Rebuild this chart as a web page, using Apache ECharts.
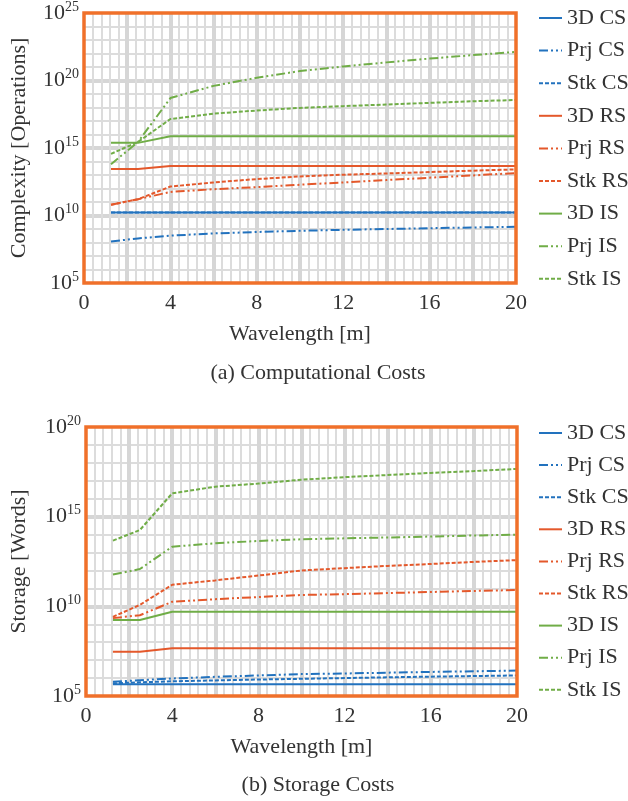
<!DOCTYPE html>
<html>
<head>
<meta charset="utf-8">
<script src="https://cdn.jsdelivr.net/npm/echarts@6/dist/echarts.min.js"></script>
<style>
  html, body { margin: 0; padding: 0; background: #fff; }
  #chart { width: 628px; height: 801px; }
</style>
</head>
<body>
<div id="chart"></div>
<script>
// wavelength samples [m]
const wavelength = [1.25, 2.5, 4, 6, 8, 10, 12, 14, 16, 18, 20];
const seriesNames = ['3D CS', 'Prj CS', 'Stk CS', '3D RS', 'Prj RS', 'Stk RS', '3D IS', 'Prj IS', 'Stk IS'];
const xTickLabels = [0, 4, 8, 12, 16, 20];
const compExponents = [5, 10, 15, 20, 25];
const storExponents = [5, 10, 15, 20];

// (a) computational costs [operations]
const compCS3D  = [1.7e10, 1.7e10, 1.7e10, 1.7e10, 1.7e10, 1.7e10, 1.7e10, 1.7e10, 1.7e10, 1.7e10, 1.7e10];
const compCSPrj = [1.2e8, 2.0e8, 3.2e8, 4.7e8, 6.0e8, 7.4e8, 8.7e8, 1.0e9, 1.15e9, 1.3e9, 1.45e9];
const compCSStk = [1.7e10, 1.7e10, 1.7e10, 1.7e10, 1.7e10, 1.7e10, 1.7e10, 1.7e10, 1.7e10, 1.7e10, 1.7e10];
const compRS3D  = [2.75e13, 2.75e13, 4.7e13, 4.7e13, 4.7e13, 4.7e13, 4.7e13, 4.7e13, 4.7e13, 4.7e13, 4.7e13];
const compRSPrj = [6.3e10, 1.6e11, 5.6e11, 8.9e11, 1.26e12, 1.9e12, 2.8e12, 4.2e12, 6.3e12, 9.3e12, 1.4e13];
const compRSStk = [6.3e10, 1.6e11, 1.4e12, 2.8e12, 5.0e12, 7.9e12, 1.05e13, 1.3e13, 1.65e13, 2.1e13, 2.6e13];
const compIS3D  = [2.4e15, 2.4e15, 7.4e15, 7.4e15, 7.4e15, 7.4e15, 7.4e15, 7.4e15, 7.4e15, 7.4e15, 7.4e15];
const compISPrj = [6.3e13, 2.8e15, 5.0e18, 4.0e19, 1.6e20, 5.0e20, 1.1e21, 2.2e21, 4.2e21, 7.6e21, 1.3e22];
const compISStk = [3.7e14, 2.8e15, 1.4e17, 3.5e17, 6.0e17, 9.3e17, 1.26e18, 1.66e18, 2.2e18, 2.9e18, 3.6e18];

// (b) storage costs [words]
const storCS3D  = [4.5e5, 4.5e5, 4.5e5, 4.5e5, 4.5e5, 4.5e5, 4.5e5, 4.5e5, 4.5e5, 4.5e5, 4.5e5];
const storCSPrj = [6.3e5, 7.6e5, 9.5e5, 1.17e6, 1.4e6, 1.66e6, 1.8e6, 2.0e6, 2.2e6, 2.4e6, 2.6e6];
const storCSStk = [5.1e5, 5.8e5, 6.6e5, 7.4e5, 8.3e5, 9.1e5, 1.0e6, 1.1e6, 1.2e6, 1.3e6, 1.4e6];
const storRS3D  = [2.95e7, 2.95e7, 4.6e7, 4.6e7, 4.6e7, 4.6e7, 4.6e7, 4.6e7, 4.6e7, 4.6e7, 4.6e7];
const storRSPrj = [2.2e9, 3.2e9, 1.8e10, 2.5e10, 3.3e10, 4.3e10, 4.8e10, 5.5e10, 6.3e10, 7.2e10, 8.1e10];
const storRSStk = [2.6e9, 1.2e10, 1.6e11, 2.8e11, 5.2e11, 1.0e12, 1.35e12, 1.8e12, 2.3e12, 3.0e12, 3.8e12];
const storIS3D  = [1.74e9, 1.74e9, 5.0e9, 5.0e9, 5.0e9, 5.0e9, 5.0e9, 5.0e9, 5.0e9, 5.0e9, 5.0e9];
const storISPrj = [5.9e11, 1.2e12, 2.1e13, 3.3e13, 4.4e13, 5.5e13, 6.2e13, 6.9e13, 7.8e13, 8.9e13, 1.0e14];
const storISStk = [4.6e13, 1.8e14, 2.0e16, 4.7e16, 7.0e16, 1.15e17, 1.6e17, 2.1e17, 2.75e17, 3.5e17, 4.6e17];

const FONT = '"Liberation Serif", "DejaVu Serif", serif';
const TEXT = '#333333';
const BORDER = '#f0702a';
const GRID_MAJOR = '#d6d6d6';
const GRID_MINOR = '#dcdcdc';
const colors = ['#2272be', '#2272be', '#2272be', '#e4582b', '#e4582b', '#e4582b', '#70ad47', '#70ad47', '#70ad47'];
const dashes = ['solid', [9, 3, 2, 3, 2, 3], [4, 2]];

const chart = echarts.init(document.getElementById('chart'));

function pairs(ys) {
  return wavelength.map((x, i) => [x, ys[i]]);
}

function buildSeries(list, xIdx, yIdx) {
  return list.map((ys, i) => ({
    name: seriesNames[i],
    type: 'line',
    xAxisIndex: xIdx,
    yAxisIndex: yIdx,
    data: pairs(ys),
    symbol: 'none',
    showSymbol: false,
    z: i % 3 === 0 ? 4 : 3,
    lineStyle: { color: colors[i], width: 2, type: dashes[i % 3] },
    itemStyle: { color: colors[i] },
    emphasis: { disabled: true }
  }));
}

function xAxis(gridIndex) {
  return {
    type: 'value', gridIndex: gridIndex, min: 0, max: 20, interval: 2,
    name: 'Wavelength [m]', nameLocation: 'middle', nameGap: 40,
    nameTextStyle: { fontFamily: FONT, fontSize: 22, color: TEXT },
    axisLine: { show: false }, axisTick: { show: false },
    axisLabel: {
      margin: 9, fontFamily: FONT, fontSize: 22, color: TEXT,
      formatter: v => (xTickLabels.indexOf(v) >= 0 ? String(v) : '')
    },
    splitLine: { show: true, showMinLine: false, showMaxLine: false, lineStyle: { color: GRID_MAJOR, width: 4 } },
    minorTick: { show: false, splitNumber: 5 },
    minorSplitLine: { show: true, lineStyle: { color: GRID_MINOR, width: 2 } }
  };
}

function gridAxis(gridIndex, exps, name, gap) {
  return {
    type: 'value', gridIndex: gridIndex, position: 'left',
    min: exps[0], max: exps[exps.length - 1], interval: 5,
    name: name, nameLocation: 'middle', nameGap: gap,
    nameTextStyle: { fontFamily: FONT, fontSize: 22, color: TEXT },
    axisLine: { show: false }, axisTick: { show: false },
    axisLabel: {
      margin: 5,
      formatter: v => '{b|10}{s|' + v + '}',
      rich: {
        b: { fontFamily: FONT, fontSize: 22, color: TEXT, lineHeight: 26 },
        s: { fontFamily: FONT, fontSize: 14, color: TEXT, verticalAlign: 'top', lineHeight: 14 }
      }
    },
    splitLine: { show: true, showMinLine: false, showMaxLine: false, lineStyle: { color: GRID_MAJOR, width: 4 } },
    minorTick: { show: false, splitNumber: 5 },
    minorSplitLine: { show: true, lineStyle: { color: GRID_MINOR, width: 2 } }
  };
}

function logAxis(gridIndex, lo, hi) {
  return {
    type: 'log', logBase: 10, gridIndex: gridIndex, position: 'right',
    min: lo, max: hi, show: false, splitLine: { show: false }
  };
}

function legend(top, gap) {
  return {
    orient: 'vertical', left: 533, top: top, itemGap: gap,
    itemWidth: 23, itemHeight: 14,
    selectedMode: false,
    data: seriesNames,
    itemStyle: { opacity: 0 },
    textStyle: { fontFamily: FONT, fontSize: 22, color: TEXT, lineHeight: 24 }
  };
}

const option = {
  animation: false,
  grid: [
    { left: 83, top: 12, width: 433, height: 271, show: true, z: 10, backgroundColor: 'transparent', borderColor: BORDER, borderWidth: 3.5 },
    { left: 85, top: 427, width: 432, height: 269, show: true, z: 10, backgroundColor: 'transparent', borderColor: BORDER, borderWidth: 3.5 }
  ],
  legend: [legend(1, 8.6), legend(416, 8.1)],
  xAxis: [xAxis(0), xAxis(1)],
  yAxis: [
    logAxis(0, 1e5, 1e25),
    gridAxis(0, compExponents, 'Complexity [Operations]', 54),
    logAxis(1, 1e5, 1e20),
    gridAxis(1, storExponents, 'Storage [Words]', 56)
  ],
  graphic: [
    { type: 'text', x: 318, y: 373, style: { text: '(a) Computational Costs', font: '22px ' + FONT, fill: TEXT, textAlign: 'center', textVerticalAlign: 'middle' } },
    { type: 'text', x: 318, y: 785, style: { text: '(b) Storage Costs', font: '22px ' + FONT, fill: TEXT, textAlign: 'center', textVerticalAlign: 'middle' } }
  ],
  series: [
    ...buildSeries([compCS3D, compCSPrj, compCSStk, compRS3D, compRSPrj, compRSStk, compIS3D, compISPrj, compISStk], 0, 0),
    ...buildSeries([storCS3D, storCSPrj, storCSStk, storRS3D, storRSPrj, storRSStk, storIS3D, storISPrj, storISStk], 1, 2)
  ]
};

chart.setOption(option);
</script>
</body>
</html>
